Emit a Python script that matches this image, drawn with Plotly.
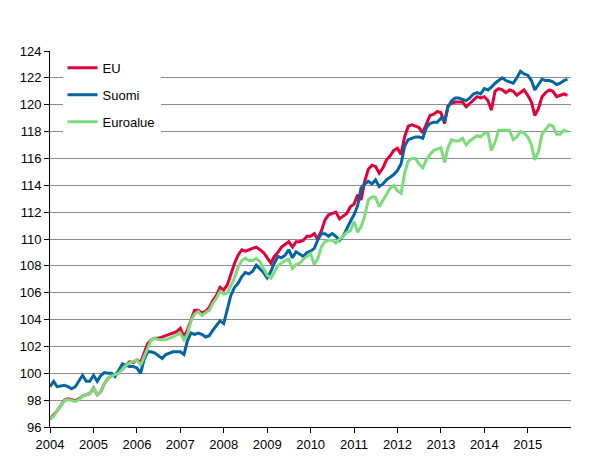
import plotly.graph_objects as go
import pandas as pd

months = pd.date_range("2004-01-01", "2015-12-01", freq="MS")

eu = [
    96.6, 96.9, 97.2, 97.6, 98.0, 98.1, 98.0, 97.95, 98.1, 98.3, 98.4, 98.5,
    98.9, 98.4, 98.6, 99.2, 99.6, 99.8, 99.9, 100.1, 100.3, 100.6, 100.85, 100.8,
    101.0, 100.8, 101.5, 102.2, 102.5, 102.6, 102.6, 102.7, 102.8, 102.9, 103.0, 103.1,
    103.35, 102.7, 103.2, 104.0, 104.7, 104.7, 104.5, 104.6, 104.9, 105.4, 105.8, 106.4,
    106.2, 106.6, 107.4, 108.2, 108.8, 109.2, 109.1, 109.2, 109.3, 109.4, 109.2, 109.0,
    108.6, 108.2, 108.7, 109.0, 109.4, 109.6, 109.8, 109.4, 109.8, 109.8, 109.9, 110.2,
    110.2, 110.4, 110.0, 110.6, 111.4, 111.8, 111.9, 112.0, 111.5, 111.7, 111.9, 112.4,
    112.6, 113.3, 112.9, 114.3, 115.2, 115.5, 115.4, 114.9, 115.3, 115.9, 116.2, 116.6,
    116.75, 116.3, 117.6, 118.4, 118.5, 118.4, 118.3, 117.9, 118.6, 119.2, 119.3, 119.5,
    119.4, 118.6, 119.9, 120.1, 120.2, 120.2, 120.2, 119.85, 120.1, 120.4, 120.6, 120.5,
    120.6, 120.3, 119.6, 121.0, 121.2, 121.1, 120.9, 121.1, 121.0, 120.7, 120.9, 121.1,
    120.7, 120.2, 119.2, 119.7, 120.6, 120.9, 121.1, 121.0, 120.6, 120.7, 120.8, 120.7,
]

suomi = [
    99.0, 99.4, 99.0, 99.05, 99.1, 99.0, 98.85, 99.0, 99.4, 99.85, 99.4, 99.4,
    99.85, 99.4, 99.8, 100.05, 100.0, 100.0, 99.75, 100.2, 100.7, 100.6, 100.5, 100.5,
    100.4, 100.0, 101.0, 101.6, 101.6, 101.5, 101.3, 101.1, 101.4, 101.5, 101.6, 101.6,
    101.6, 101.4, 102.4, 103.0, 102.9, 103.0, 102.9, 102.7, 102.8, 103.2, 103.6, 103.9,
    103.7, 104.8, 105.8, 106.4, 106.7, 107.2, 107.5, 107.4, 107.6, 108.05, 107.8, 107.5,
    107.1, 107.6, 108.2, 108.7, 108.6, 108.8, 109.2, 108.6, 109.05, 108.9, 108.7, 109.0,
    109.1, 109.3, 109.9, 110.4, 110.4, 110.2, 110.4, 110.2, 109.9, 110.2, 110.8, 111.3,
    111.8, 112.5, 113.8, 114.1, 114.3, 114.1, 114.4, 113.9, 114.1, 114.4, 114.6, 114.8,
    115.1, 115.6, 116.9, 117.4, 117.5, 117.6, 117.6, 117.5, 118.3, 118.6, 118.7, 118.7,
    119.0, 118.8, 119.8, 120.3, 120.5, 120.5, 120.4, 120.3, 120.5, 120.8, 120.9, 120.8,
    121.2, 121.1, 121.3, 121.6, 121.8, 122.0, 121.8, 121.7, 121.6, 122.0, 122.5, 122.3,
    122.2, 121.8, 121.1, 121.5, 121.9, 121.8, 121.8, 121.7, 121.5, 121.6, 121.8, 121.9,
]

euroalue = [
    96.6, 96.8, 97.2, 97.6, 97.95, 98.05, 97.95, 97.9, 98.05, 98.3, 98.4, 98.5,
    98.95, 98.4, 98.6, 99.2, 99.6, 99.8, 99.9, 100.0, 100.3, 100.6, 100.75, 100.9,
    101.0, 100.6, 101.2, 102.0, 102.5, 102.6, 102.5, 102.5, 102.5, 102.6, 102.7, 102.85,
    103.0, 102.5, 102.9, 103.9, 104.4, 104.6, 104.3, 104.5, 104.7, 105.2, 105.6, 106.1,
    105.9, 106.0, 106.5, 107.1, 107.9, 108.4, 108.56, 108.4, 108.4, 108.56, 108.3, 107.8,
    107.3, 107.1, 107.5, 108.0, 108.2, 108.4, 108.5, 107.8, 108.1, 108.2, 108.5, 108.7,
    108.9, 108.1, 108.5, 109.4, 109.8, 109.9, 109.9, 109.7, 110.0, 110.2, 110.5, 110.6,
    111.3, 110.5, 110.9, 111.7, 112.9, 113.15, 113.1, 112.4, 112.9, 113.4, 113.8, 114.0,
    113.6, 113.4, 114.9, 115.8, 116.0, 116.0, 115.6, 115.3, 115.9, 116.3, 116.6, 116.7,
    116.8, 115.7, 116.8, 117.4, 117.3, 117.3, 117.5, 117.0, 117.3, 117.5, 117.7, 117.6,
    117.9, 117.9, 116.6, 117.2, 118.1, 118.1, 118.1, 118.1, 117.4, 117.6, 118.0, 117.9,
    117.6, 117.0, 115.9, 116.5, 117.8, 118.2, 118.5, 118.4, 117.8, 117.8, 118.1, 118.0,
]

series = [("EU", eu, "#E2003C"), ("Suomi", suomi, "#0565A3"), ("Euroalue", euroalue, "#7CDC7C")]

fig = go.Figure()
for name, vals, col in series:
    fig.add_trace(go.Scatter(x=months, y=vals, mode="lines", name=name,
                             legendgroup=name,
                             line=dict(color=col, width=3)))

font = "Liberation Sans, Arial, sans-serif"
fig.update_layout(
    width=597, height=464,
    margin=dict(l=40, r=34, t=43, b=45),
    paper_bgcolor="white", plot_bgcolor="white",
    font=dict(family=font, size=13, color="black"),
    showlegend=True,
    legend=dict(x=0.024, y=0.995, xanchor="left", yanchor="top",
                bgcolor="white", borderwidth=0, tracegroupgap=7,
                font=dict(family=font, size=13, color="black")),
    xaxis=dict(range=["2004-01-01", "2015-12-31"], tickformat="%Y", dtick="M12",
               tick0="2004-01-01", ticks="outside", ticklen=5, tickcolor="black",
               showline=True, linecolor="black", linewidth=1, showgrid=False,
               zeroline=False),
    yaxis=dict(range=[96, 124], dtick=2, ticks="outside", ticklen=5, tickcolor="black",
               showline=True, linecolor="black", linewidth=1,
               showgrid=True, gridcolor="#8c8c8c", gridwidth=1, zeroline=False),
)
fig.write_html("out.html")
